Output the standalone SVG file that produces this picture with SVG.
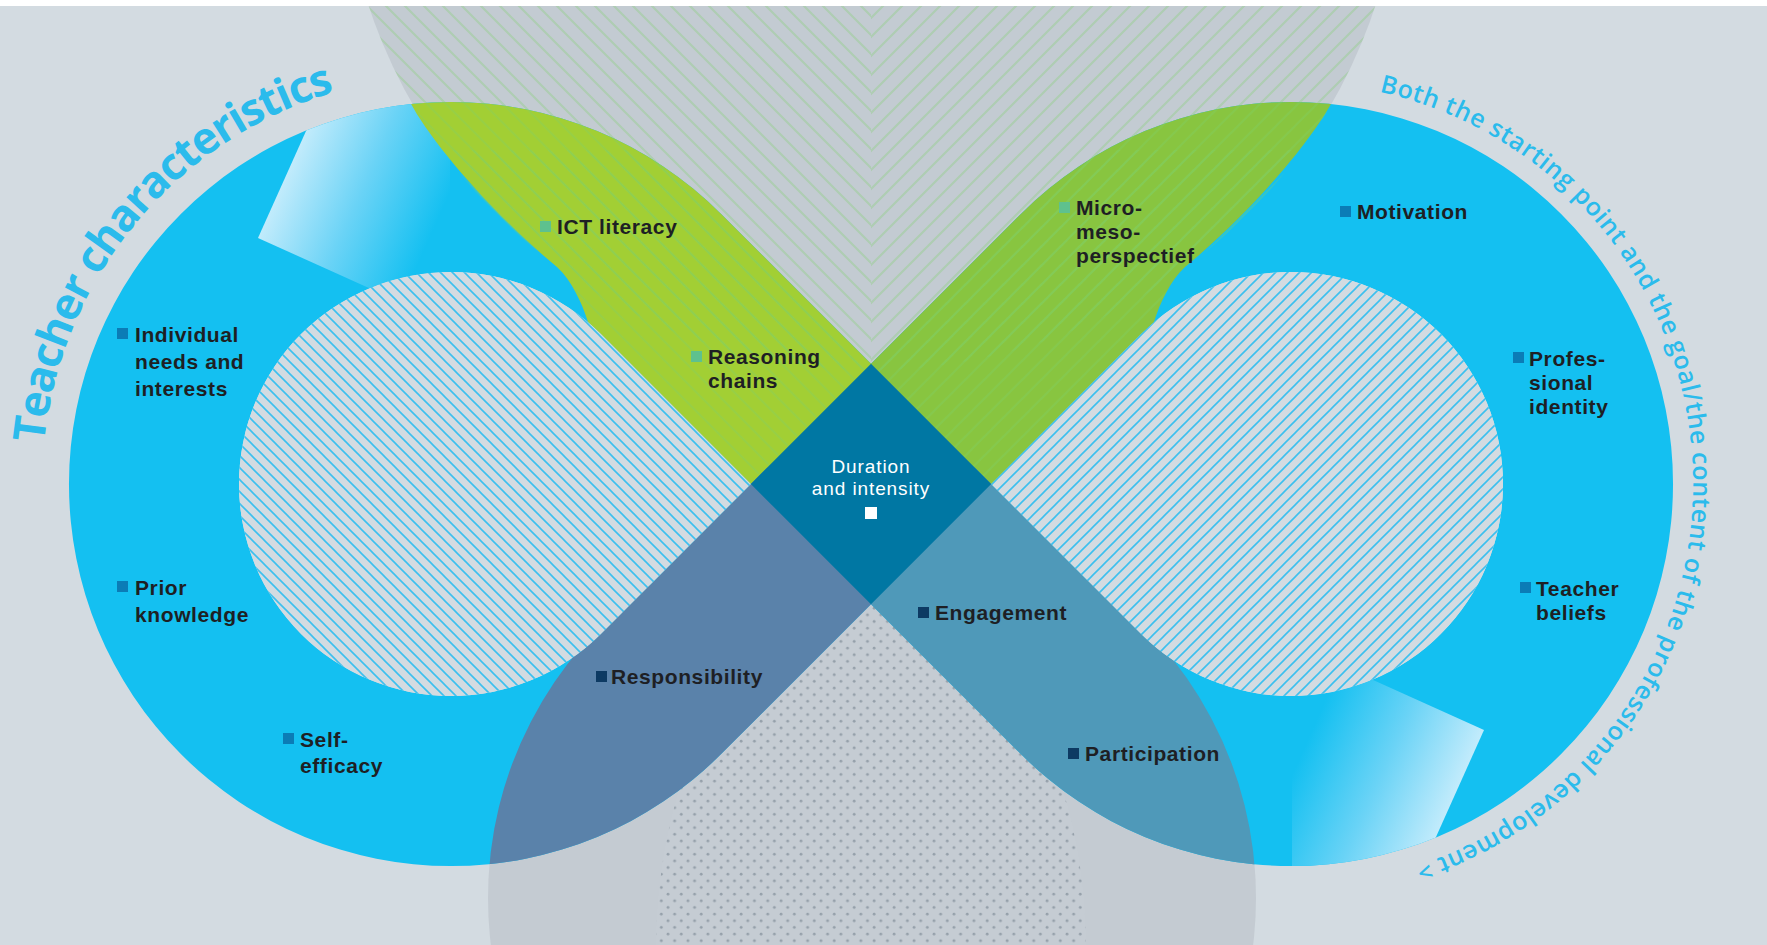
<svg xmlns="http://www.w3.org/2000/svg" width="1767" height="945" viewBox="0 0 1767 945">
<style>
.lbl{font-family:"Liberation Sans",Arial,sans-serif;font-weight:700;font-size:21px;letter-spacing:0.6px;fill:#1e1f24}
.dur{font-family:"Liberation Sans",Arial,sans-serif;font-weight:400;font-size:19px;letter-spacing:0.9px;fill:#ffffff;text-anchor:middle}
.arcA{font-family:"Open Sans","Liberation Sans",sans-serif;font-weight:700;font-size:44px;fill:#2bbbec}
.arcB{font-family:"Open Sans","Liberation Sans",sans-serif;font-weight:600;font-size:25px;fill:#2bbbec}
.sqb{fill:#0b7cb6}.sqg{fill:#5ec18e}.sqn{fill:#0d3a63}
</style>
<defs>
<path id="bandPath" d="M871,363.8 L721.1,213.9 A382,382 0 1 0 721.1,754.1 L871,604.2 L1020.9,754.1 A382,382 0 1 0 1020.9,213.9 Z M750.8,484 L600.9,334.1 A212,212 0 1 0 600.9,633.9 Z M991.2,484 L1141.1,633.9 A212,212 0 1 0 1141.1,334.1 Z"/>
<clipPath id="cTop"><circle cx="872" cy="-160" r="530"/></clipPath>
<clipPath id="cGreenL"><path d="M380,0 L410,102 C430,140 490,212 557,267 C572,281 582,303 588,322 L745,484 L871,484 L871,0 Z"/></clipPath>
<clipPath id="cGreenR"><path d="M1362,0 L1332,102 C1312,140 1252,212 1185,267 C1170,281 1160,303 1154,322 L997,484 L871,484 L871,0 Z"/></clipPath>
<clipPath id="cLowL"><circle cx="872" cy="898" r="384"/><polygon points="767.4,467.4 892.5,592.5 722.5,762.5 597.4,637.4"/></clipPath>
<clipPath id="cLowR"><circle cx="872" cy="898" r="384"/><polygon points="974.6,467.4 849.5,592.5 1019.5,762.5 1144.6,637.4"/></clipPath>
<clipPath id="cL"><rect x="0" y="0" width="871" height="945"/></clipPath>
<clipPath id="cR"><rect x="871" y="0" width="896" height="945"/></clipPath>
<clipPath id="cBand"><use href="#bandPath" clip-rule="evenodd"/></clipPath>
<pattern id="stL" patternUnits="userSpaceOnUse" width="19" height="19">
<path d="M-5,-5 L24,24 M-5,14 L5,24 M14,-5 L24,5" stroke="#7dd36a" stroke-opacity="0.3" stroke-width="2.2"/>
</pattern>
<pattern id="stR" patternUnits="userSpaceOnUse" x="15" width="19" height="19">
<path d="M-5,24 L24,-5 M-5,5 L5,-5 M14,24 L24,14" stroke="#7dd36a" stroke-opacity="0.3" stroke-width="2.2"/>
</pattern>
<pattern id="hatchL" patternUnits="userSpaceOnUse" width="12" height="12">
<rect width="12" height="12" fill="#d3dbe1"/>
<path d="M-3,-3 L15,15 M-3,9 L3,15 M9,-3 L15,3" stroke="#3cc0ef" stroke-width="1.6"/>
</pattern>
<pattern id="hatchR" patternUnits="userSpaceOnUse" width="12" height="12">
<rect width="12" height="12" fill="#d3dbe1"/>
<path d="M-3,15 L15,-3 M-3,3 L3,-3 M9,15 L15,9" stroke="#3cc0ef" stroke-width="1.6"/>
</pattern>
<pattern id="dots" patternUnits="userSpaceOnUse" width="13.3" height="13.3">
<rect width="13.3" height="13.3" fill="#c5ccd3"/>
<circle cx="3" cy="3" r="1.4" fill="#95a0aa"/>
<circle cx="9.65" cy="9.65" r="1.4" fill="#95a0aa"/>
</pattern>
<linearGradient id="wedgeG" gradientUnits="userSpaceOnUse" x1="272" y1="194" x2="420" y2="260">
<stop offset="0" stop-color="#c8edfc"/>
<stop offset="0.5" stop-color="#6ad3f6"/>
<stop offset="1" stop-color="#14c0f1"/>
</linearGradient>
<path id="arcL" d="M44.0,443.4 A409,409 0 0 1 352.1,87.1"/>
<path id="arcR" d="M1379.4,91.8 A402,402 0 0 1 1395,872.3"/>
</defs>

<g id="background">
<rect x="0" y="0" width="1767" height="945" fill="#d3dbe1"/>
<circle cx="872" cy="-160" r="530" fill="#c3cbd2"/>
<circle cx="872" cy="898" r="384" fill="#c4cbd2"/>
<ellipse cx="871" cy="950" rx="215" ry="355" fill="url(#dots)"/>
</g>

<g id="connectors">
<use href="#bandPath" fill="#14c0f1" fill-rule="evenodd"/>
<g clip-path="url(#cBand)">
<polygon points="330,80 315,111 258,238 380,293 450,293 450,80" fill="url(#wedgeG)"/>
<polygon points="330,80 315,111 258,238 380,293 450,293 450,80" fill="url(#wedgeG)" transform="rotate(180 871 484)"/>
</g>
<use href="#bandPath" fill="#a2cf34" fill-rule="evenodd" clip-path="url(#cGreenL)"/>
<use href="#bandPath" fill="#88c540" fill-rule="evenodd" clip-path="url(#cGreenR)"/>
<g clip-path="url(#cTop)">
<rect x="0" y="0" width="871" height="420" fill="url(#stL)"/>
<rect x="871" y="0" width="896" height="420" fill="url(#stR)"/>
</g>
<g clip-path="url(#cBand)">
<g clip-path="url(#cGreenL)"><rect x="300" y="150" width="571" height="340" fill="url(#stL)"/></g>
<g clip-path="url(#cGreenR)"><rect x="871" y="150" width="571" height="340" fill="url(#stR)"/></g>
</g>
<g clip-path="url(#cL)"><use href="#bandPath" fill="#5a82aa" fill-rule="evenodd" clip-path="url(#cLowL)"/></g>
<g clip-path="url(#cR)"><use href="#bandPath" fill="#4f99b9" fill-rule="evenodd" clip-path="url(#cLowR)"/></g>
<path d="M750.8,484 L600.9,334.1 A212,212 0 1 0 600.9,633.9 Z" fill="url(#hatchL)"/>
<path d="M991.2,484 L1141.1,633.9 A212,212 0 1 0 1141.1,334.1 Z" fill="url(#hatchR)"/>
</g>

<rect x="0" y="0" width="1767" height="6" fill="#ffffff"/>

<g id="node-center">
<path d="M871,363.8 L991.2,484 L871,604.2 L750.8,484 Z" fill="#0077a3"/>
<text class="dur" x="871" y="473">Duration<tspan x="871" dy="22">and intensity</tspan></text>
<rect x="865" y="507" width="12" height="12" fill="#ffffff"/>
</g>

<g id="node-individual">
<rect class="sqb" x="117" y="328" width="11" height="11"/>
<text class="lbl" x="135" y="342">Individual<tspan x="135" dy="27">needs and</tspan><tspan x="135" dy="27">interests</tspan></text>
</g>
<g id="node-prior">
<rect class="sqb" x="117" y="581" width="11" height="11"/>
<text class="lbl" x="135" y="595">Prior<tspan x="135" dy="27">knowledge</tspan></text>
</g>
<g id="node-self">
<rect class="sqb" x="283" y="733" width="11" height="11"/>
<text class="lbl" x="300" y="747">Self-<tspan x="300" dy="26">efficacy</tspan></text>
</g>
<g id="node-ict">
<rect class="sqg" x="540" y="221" width="11" height="11"/>
<text class="lbl" x="557" y="234">ICT literacy</text>
</g>
<g id="node-reasoning">
<rect class="sqg" x="691" y="351" width="11" height="11"/>
<text class="lbl" x="708" y="364">Reasoning<tspan x="708" dy="24">chains</tspan></text>
</g>
<g id="node-micro">
<rect class="sqg" x="1059" y="202" width="11" height="11"/>
<text class="lbl" x="1076" y="215">Micro-<tspan x="1076" dy="24">meso-</tspan><tspan x="1076" dy="24">perspectief</tspan></text>
</g>
<g id="node-motivation">
<rect class="sqb" x="1340" y="206" width="11" height="11"/>
<text class="lbl" x="1357" y="219">Motivation</text>
</g>
<g id="node-professional">
<rect class="sqb" x="1513" y="352" width="11" height="11"/>
<text class="lbl" x="1529" y="366">Profes-<tspan x="1529" dy="24">sional</tspan><tspan x="1529" dy="24">identity</tspan></text>
</g>
<g id="node-beliefs">
<rect class="sqb" x="1520" y="582" width="11" height="11"/>
<text class="lbl" x="1536" y="596">Teacher<tspan x="1536" dy="24">beliefs</tspan></text>
</g>
<g id="node-engagement">
<rect class="sqn" x="918" y="607" width="11" height="11"/>
<text class="lbl" x="935" y="620">Engagement</text>
</g>
<g id="node-responsibility">
<rect class="sqn" x="596" y="671" width="11" height="11"/>
<text class="lbl" x="611" y="684">Responsibility</text>
</g>
<g id="node-participation">
<rect class="sqn" x="1068" y="748" width="11" height="11"/>
<text class="lbl" x="1085" y="761">Participation</text>
</g>

<g id="title-left">
<text class="arcA"><textPath href="#arcL" textLength="484" lengthAdjust="spacing">Teacher characteristics</textPath></text>
</g>
<g id="title-right">
<text class="arcB"><textPath href="#arcR" textLength="1047" lengthAdjust="spacing">Both the starting point and the goal/the content of the professional development &gt;</textPath></text>
</g>
</svg>
